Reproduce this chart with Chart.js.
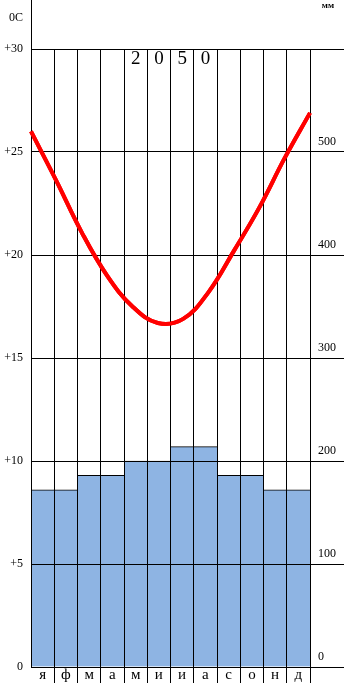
<!DOCTYPE html>
<html>
<head>
<meta charset="utf-8">
<script src="https://cdn.jsdelivr.net/npm/chart.js@4/dist/chart.umd.min.js"></script>
<style>
  html, body { margin: 0; padding: 0; background: #fff; }
  #wrap { width: 344px; height: 686px; position: relative; }
</style>
</head>
<body>
<div id="wrap"><canvas id="c"></canvas></div>
<script>
const months = ['я','ф','м','а','м','и','и','а','с','о','н','д'];
const precipitation = [172,172,186,186,200,200,214,214,186,186,172,172];
const temperature = [26.0,23.6,21.1,19.0,17.5,16.7,16.9,18.2,20.2,22.3,24.7,26.9];
const titleDigits = ['2','0','5','0'];
const titleStartIndex = 4;
const tempUnit = '0C';
const precipUnit = 'мм';

const SERIF = "'Liberation Serif', 'Times New Roman', serif";

const overlay = {
  id: 'overlay',
  afterDraw(chart) {
    const ctx = chart.ctx;
    const area = chart.chartArea;
    // keep the temperature curve on top of the grid
    chart.getDatasetMeta(1).controller.draw();
    ctx.save();
    // left axis line continues up to the top of the picture
    const xl = Math.round(area.left - 0.5) + 0.5;
    ctx.strokeStyle = '#000';
    ctx.lineWidth = 1;
    ctx.beginPath();
    ctx.moveTo(xl, 0);
    ctx.lineTo(xl, area.top);
    ctx.stroke();
    ctx.fillStyle = '#000';
    ctx.textAlign = 'center';
    ctx.textBaseline = 'middle';
    ctx.font = '12px ' + SERIF;
    ctx.fillText(tempUnit, 16, 18);
    ctx.font = 'bold 9px ' + SERIF;
    ctx.fillText(precipUnit, 328, 6);
    ctx.font = '19px ' + SERIF;
    const xs = chart.scales.x;
    titleDigits.forEach((d, i) => {
      ctx.fillText(d, xs.getPixelForValue(titleStartIndex + i), 59);
    });
    ctx.restore();
  }
};

new Chart(document.getElementById('c'), {
  type: 'bar',
  data: {
    labels: months,
    datasets: [
      {
        type: 'bar',
        data: precipitation,
        xAxisID: 'x',
        yAxisID: 'yR',
        backgroundColor: '#8EB4E3',
        borderColor: '#000',
        borderWidth: { top: 1, right: 0, bottom: 0, left: 0 },
        borderSkipped: false,
        grouped: false,
        barPercentage: 1,
        categoryPercentage: 1,
        order: 2
      },
      {
        type: 'line',
        data: temperature,
        xAxisID: 'x2',
        yAxisID: 'yL',
        borderColor: '#FF0000',
        borderWidth: 4,
        pointRadius: 0,
        fill: false,
        tension: 0.4,
        order: 1
      }
    ]
  },
  options: {
    responsive: true,
    maintainAspectRatio: false,
    animation: false,
    layout: { padding: { top: 49, left: 0, right: 0, bottom: 0 } },
    plugins: { legend: { display: false }, tooltip: { enabled: false }, title: { display: false } },
    scales: {
      x: {
        type: 'category',
        position: 'bottom',
        offset: true,
        grid: {
          offset: true,
          z: 1,
          color: c => (c.index === 0 ? 'rgba(0,0,0,0)' : '#000'),
          lineWidth: 1,
          drawTicks: true,
          tickLength: 16
        },
        border: { display: true, color: '#000', width: 1, z: 1 },
        ticks: {
          color: '#000',
          font: { family: SERIF, size: 15 },
          padding: -17,
          maxRotation: 0,
          autoSkip: false
        },
        afterFit: s => { s.height = 19; }
      },
      x2: {
        type: 'category',
        labels: months,
        offset: false,
        display: false
      },
      yL: {
        type: 'linear',
        position: 'left',
        min: 0,
        max: 30,
        grid: { display: false, drawTicks: false },
        border: { display: true, color: '#000', width: 1, z: 1 },
        ticks: {
          stepSize: 5,
          color: '#000',
          padding: 8,
          labelOffset: c => (c.tick && c.tick.value === 0 ? -19 : 0),
          font: { family: SERIF, size: 12 },
          callback: v => (v === 0 ? '0' : '+' + v)
        },
        afterFit: s => { s.width = 31; }
      },
      yR: {
        type: 'linear',
        position: 'right',
        min: 0,
        max: 600,
        grid: {
          z: 1,
          color: '#000',
          lineWidth: 1,
          drawTicks: true,
          tickLength: 34,
          drawOnChartArea: true
        },
        border: { display: false },
        ticks: {
          stepSize: 100,
          color: '#000',
          padding: -26,
          labelOffset: c => (c.tick && c.tick.value === 0 ? -22 : -10),
          font: { family: SERIF, size: 12 },
          callback: v => (v === 600 ? '' : String(v))
        },
        afterFit: s => { s.width = 34; }
      }
    }
  },
  plugins: [overlay]
});
</script>
</body>
</html>
